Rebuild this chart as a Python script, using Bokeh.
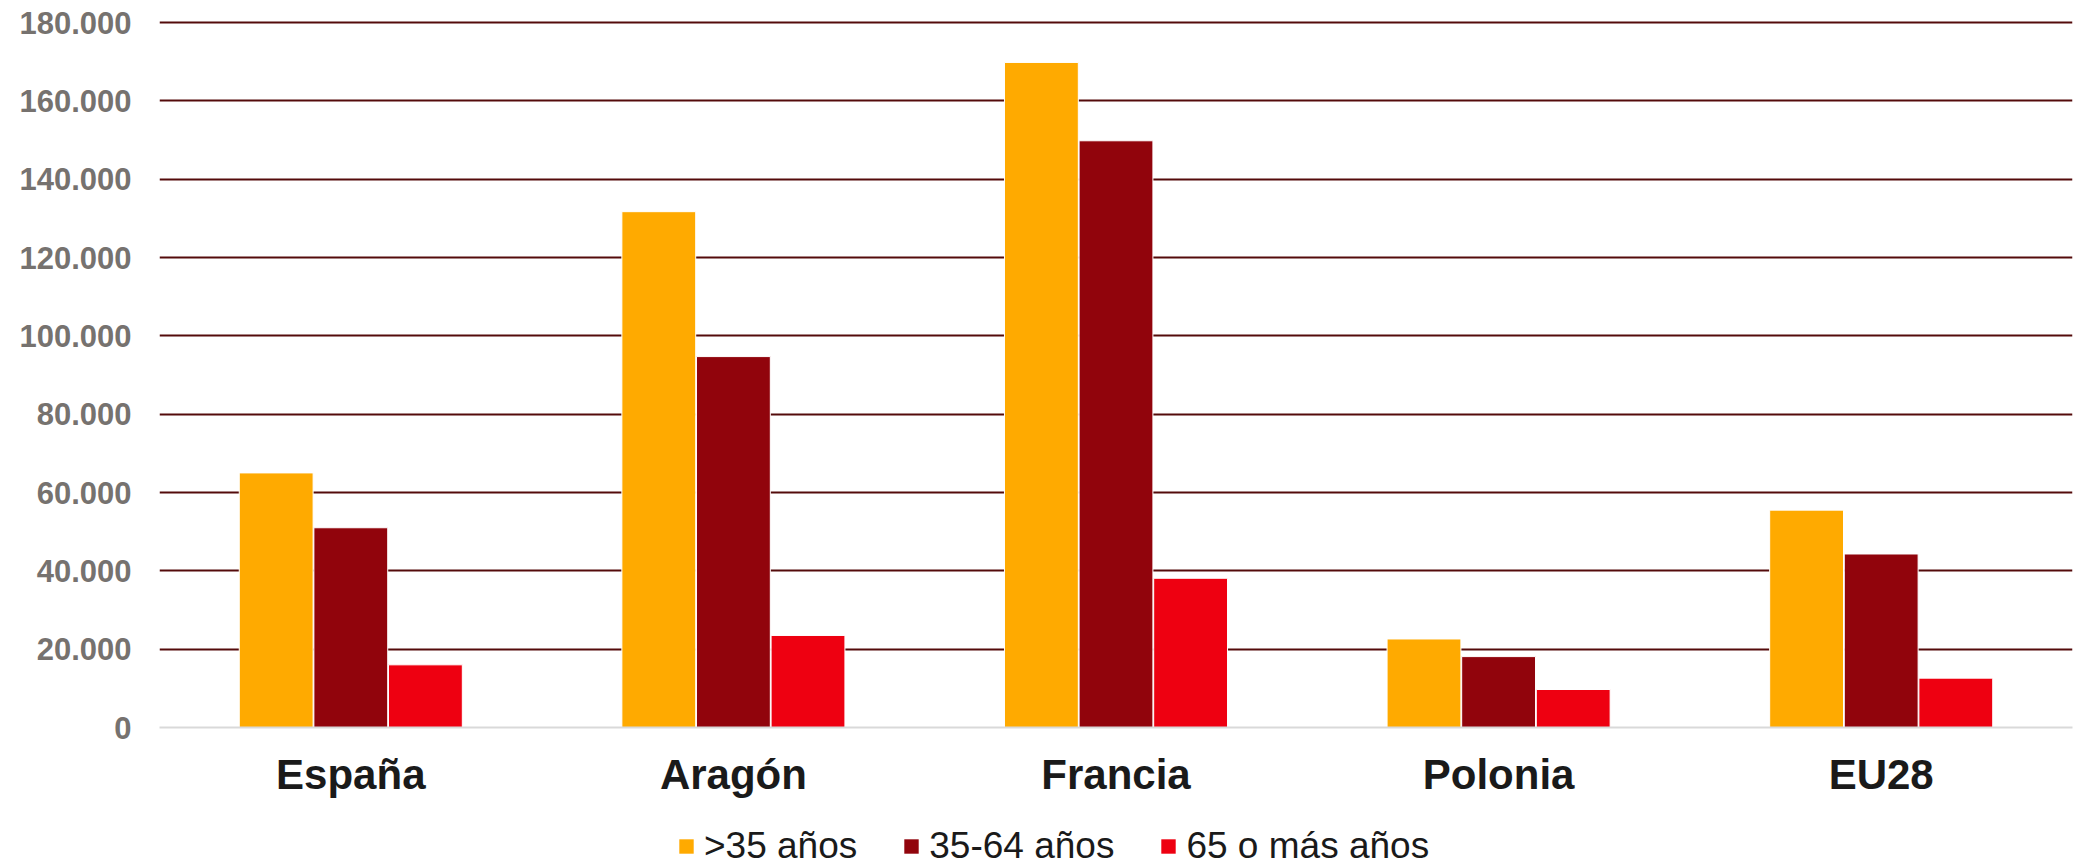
from bokeh.plotting import figure
from bokeh.layouts import column
from bokeh.models import FactorRange, Range1d, FixedTicker, Legend, LegendItem, ColumnDataSource
from bokeh.transform import dodge
from bokeh.embed import file_html
from bokeh.resources import INLINE

categories = ["España", "Aragón", "Francia", "Polonia", "EU28"]
series_names = [">35 años", "35-64 años", "65 o más años"]
menos35 = [65000, 131700, 169800, 22600, 55500]
de35a64 = [51000, 94700, 149800, 18100, 44300]
mas65 = [16000, 23500, 38100, 9700, 12600]
y_ticks = [0, 20000, 40000, 60000, 80000, 100000, 120000, 140000, 160000, 180000]
y_tick_labels = ["0", "20.000", "40.000", "60.000", "80.000", "100.000",
                 "120.000", "140.000", "160.000", "180.000"]
colors = ["#FFAA00", "#91040C", "#EE0011"]

source = ColumnDataSource(data=dict(cat=categories, s0=menos35, s1=de35a64, s2=mas65))
keys = ["s0", "s1", "s2"]
offsets = [-0.195, 0.0, 0.195]

p = figure(x_range=FactorRange(*categories, range_padding=0),
           y_range=Range1d(0, 180000 * 708 / 705),
           width=2082, height=800,
           output_backend="svg", toolbar_location=None,
           min_border_left=159, min_border_right=10,
           min_border_top=19, min_border_bottom=73)
p.x_range.range_padding = 0

for i, key in enumerate(keys):
    p.vbar(x=dodge("cat", offsets[i], range=p.x_range), top=key, width=0.193,
           source=source, fill_color=colors[i], line_color="white", line_width=1)

p.outline_line_color = None
p.background_fill_color = "white"
p.border_fill_color = "white"

# y axis
p.yaxis.ticker = FixedTicker(ticks=y_ticks)
p.yaxis.major_label_overrides = {t: l for t, l in zip(y_ticks, y_tick_labels)}
p.yaxis.axis_line_color = None
p.yaxis.major_tick_line_color = None
p.yaxis.minor_tick_line_color = None
p.yaxis.major_label_text_font = "Liberation Sans"
p.yaxis.major_label_text_font_style = "bold"
p.yaxis.major_label_text_font_size = "31px"
p.yaxis.major_label_text_color = "#76726F"
p.yaxis.major_label_standoff = 22

# x axis
p.xaxis.axis_line_color = "#D9D9D9"
p.xaxis.axis_line_width = 2
p.xaxis.major_tick_line_color = None
p.xaxis.minor_tick_line_color = None
p.xaxis.major_label_text_font = "Liberation Sans"
p.xaxis.major_label_text_font_style = "bold"
p.xaxis.major_label_text_font_size = "42px"
p.xaxis.major_label_text_color = "#1A1A1A"
p.xaxis.major_label_standoff = 17

# grid
p.xgrid.grid_line_color = None
p.ygrid.ticker = FixedTicker(ticks=y_ticks[1:])
p.ygrid.grid_line_color = "#540B0B"
p.ygrid.grid_line_width = 2

# legend strip (its bars lie far outside its own view; only the legend shows)
pl = figure(width=2082, height=63, x_range=FactorRange(*categories),
            y_range=Range1d(1000000, 1100000),
            output_backend="svg", toolbar_location=None,
            x_axis_location=None, y_axis_location=None,
            min_border_left=0, min_border_right=0, min_border_top=0, min_border_bottom=0)
pl.outline_line_color = None
pl.xgrid.grid_line_color = None
pl.ygrid.grid_line_color = None
leg_renderers = [pl.vbar(x=dodge("cat", offsets[i], range=pl.x_range), top=keys[i], width=0.193,
                         source=source, fill_color=colors[i], line_color=None)
                 for i in range(3)]

legend = Legend(items=[LegendItem(label=series_names[i], renderers=[leg_renderers[i]]) for i in range(3)],
                orientation="horizontal", location=(518, -4),
                glyph_width=18, glyph_height=18, label_standoff=9, spacing=45,
                padding=0, margin=0, border_line_color=None, background_fill_alpha=0,
                label_text_font="Liberation Sans", label_text_font_size="37px",
                label_text_color="#1A1A1A")
pl.add_layout(legend, "center")

layout = column(p, pl, spacing=0)
open("out.html", "w").write(file_html(layout, INLINE))
